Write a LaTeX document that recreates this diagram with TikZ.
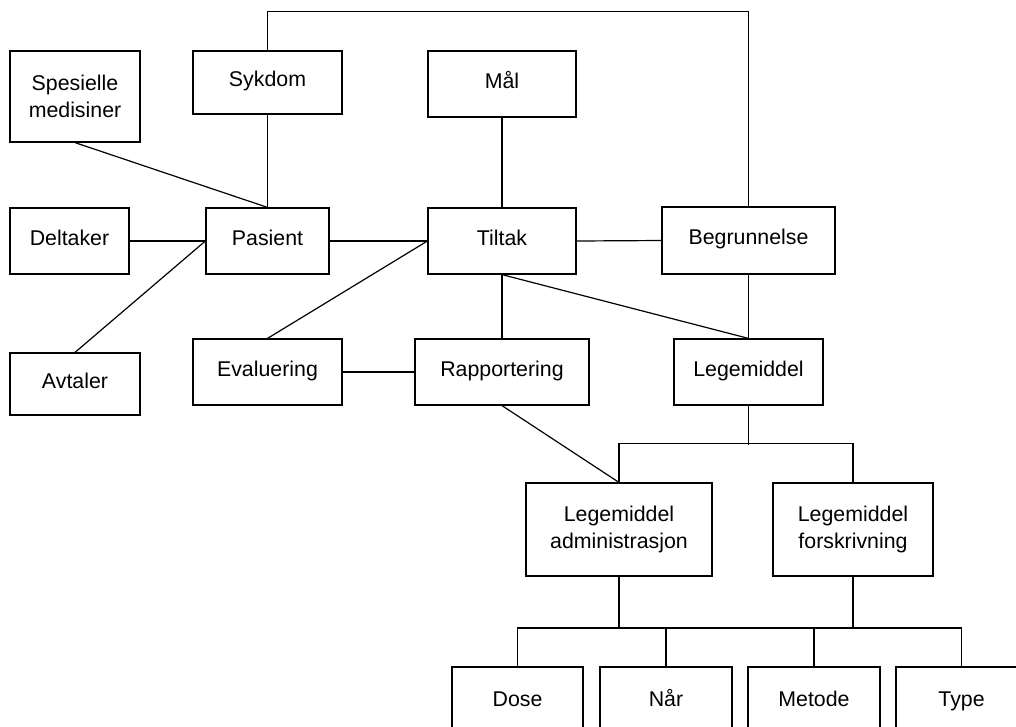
\documentclass[tikz,border=0pt]{standalone}
\usepackage{fontspec}
\setmainfont{Liberation Sans}
\begin{document}
\begin{tikzpicture}[x=0.75pt,y=-0.75pt]
\tikzstyle{box}=[rectangle, draw, line width=0.9pt, inner sep=0pt, align=center, minimum height=49.5pt, font=\fontsize{16}{20}\selectfont]
\tikzstyle{one}=[text height=0.75em, text depth=0.1em]
\tikzstyle{link}=[line width=0.9pt]
\clip (0,0) rectangle (1016,726);
\fill[white] (0,0) rectangle (1016,726);
% top row
\node[box, minimum width=97.5pt, minimum height=68.25pt] (spes) at (75,96.5) {Spesielle\\medisiner};
\node[box, one, minimum width=111.75pt, minimum height=47.25pt] (sykdom) at (267.5,82.5) {Sykdom};
\node[box, one, minimum width=111pt] (maal) at (502,84) {Mål};
% middle row
\node[box, one, minimum width=89.25pt] (delt) at (69.5,241) {Deltaker};
\node[box, one, minimum width=92.25pt] (pas) at (267.5,241) {Pasient};
\node[box, one, minimum width=111pt] (tilt) at (502,241) {Tiltak};
\node[box, one, minimum width=129.75pt, minimum height=50.25pt] (begr) at (748.5,240.5) {Begrunnelse};
\node[box, one, minimum width=97.5pt, minimum height=46.5pt] (avt) at (75,384) {Avtaler};
\node[box, one, minimum width=111.75pt] (eval) at (267.5,372) {Evaluering};
\node[box, one, minimum width=130.5pt] (rapp) at (502,372) {Rapportering};
\node[box, one, minimum width=111.75pt] (lm) at (748.5,372) {Legemiddel};
% legemiddel branches
\node[box, minimum width=139.5pt, minimum height=69.75pt] (la) at (619,529.5) {Legemiddel\\administrasjon};
\node[box, minimum width=120pt, minimum height=69.75pt] (lf) at (853,529.5) {Legemiddel\\forskrivning};
\node[box, one, minimum width=98.25pt, minimum height=52.5pt] (dose) at (517.5,702) {Dose};
\node[box, one, minimum width=99pt, minimum height=52.5pt] (naar) at (666,702) {Når};
\node[box, one, minimum width=99pt, minimum height=52.5pt] (met) at (814,702) {Metode};
\node[box, one, minimum width=98.25pt, minimum height=52.5pt] (typ) at (961.5,702) {Type};

\draw[link] (sykdom.north) -- ++(0,-39) -| (begr.north);
\draw[link] (spes.south) -- (pas.north);
\draw[link] (sykdom.south) -- (pas.north);
\draw[link] (delt.east) -- (pas.west);
\draw[link] (avt.north) -- (pas.west);
\draw[link] (pas.east) -- (tilt.west);
\draw[link] (maal.south) -- (tilt.north);
\draw[link] (eval.north) -- (tilt.west);
\draw[link] (tilt.east) -- (begr.west);
\draw[link] (tilt.south) -- (rapp.north);
\draw[link] (tilt.south) -- (lm.north);
\draw[link] (begr.south) -- (lm.north);
\draw[link] (eval.east) -- (rapp.west);
\draw[link] (rapp.south) -- (la.north);
\draw[link] (lm.south) -- ++(0,39);
\draw[link] (la.north) -- ++(0,-39) -| (lf.north);
% bottom bus
\coordinate (bus) at (0,628);
\draw[link] (la.south) -- (la.south |- bus);
\draw[link] (lf.south) -- (lf.south |- bus);
\draw[link] (dose.north) |- (bus -| typ.north) -- (typ.north);
\draw[link] (naar.north) -- (naar.north |- bus);
\draw[link] (met.north) -- (met.north |- bus);
\end{tikzpicture}
\end{document}
